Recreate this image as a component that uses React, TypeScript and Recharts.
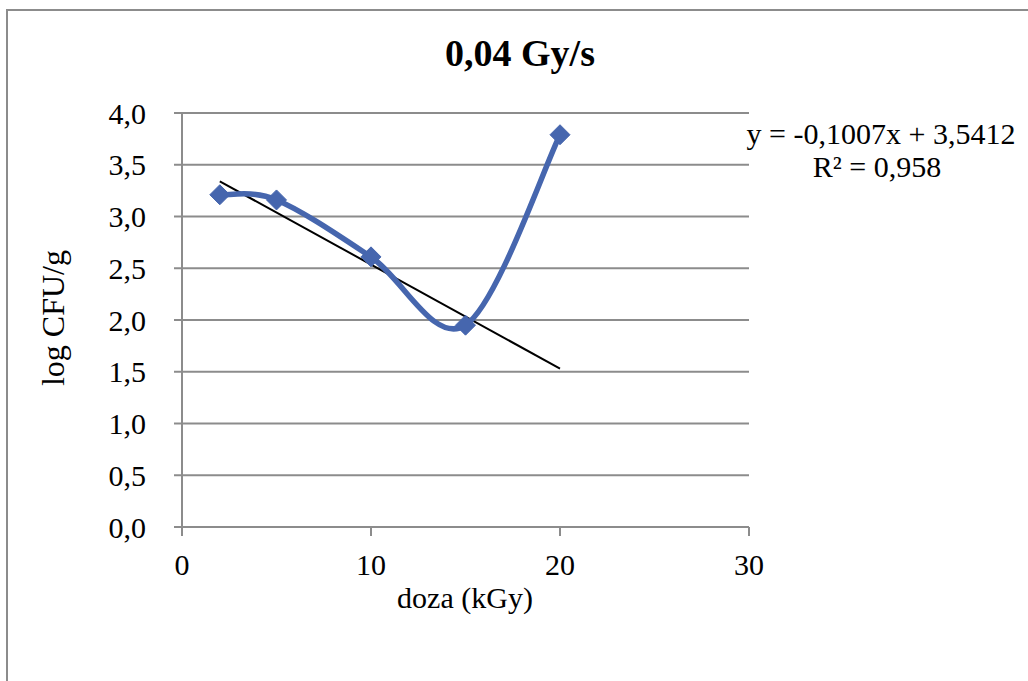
import React from 'react';
import { ComposedChart, Line, XAxis, YAxis, CartesianGrid } from 'recharts';

// measured points (dose kGy -> log CFU/g)
const doses = [2, 5, 10, 15, 20];
const logCfu = [3.21, 3.16, 2.61, 1.95, 3.79];

// linear trendline ends as drawn in the picture
const trendDoses = [2, 20];
const trendValues = [3.34, 1.53];

const xTicks = [0, 10, 20, 30];
const yTicks = [0, 0.5, 1, 1.5, 2, 2.5, 3, 3.5, 4];

const title = '0,04 Gy/s';
const xTitle = 'doza (kGy)';
const yTitle = 'log CFU/g';
const equation = 'y = -0,1007x + 3,5412';
const rSquared = 'R² = 0,958';

const measured = doses.map((x, i) => ({ x, y: logCfu[i] }));
const trend = trendDoses.map((x, i) => ({ x, y: trendValues[i] }));

const BLUE = '#4666ae';
const GRID = '#8c8c8c';
const FONT = '"Liberation Serif", "Times New Roman", serif';

// Excel-like smoothed line (Catmull-Rom through the points)
const smooth = (context: any) => {
  let pts: number[][] = [];
  return {
    areaStart() {},
    areaEnd() {},
    lineStart() {
      pts = [];
    },
    point(x: number, y: number) {
      pts.push([+x, +y]);
    },
    lineEnd() {
      const n = pts.length;
      if (!n) return;
      context.moveTo(pts[0][0], pts[0][1]);
      const t = 1 / 6;
      for (let i = 0; i < n - 1; i++) {
        const p0 = pts[Math.max(0, i - 1)];
        const p1 = pts[i];
        const p2 = pts[i + 1];
        const p3 = pts[Math.min(n - 1, i + 2)];
        context.bezierCurveTo(
          p1[0] + (p2[0] - p0[0]) * t,
          p1[1] + (p2[1] - p0[1]) * t,
          p2[0] - (p3[0] - p1[0]) * t,
          p2[1] - (p3[1] - p1[1]) * t,
          p2[0],
          p2[1]
        );
      }
    },
  };
};

const Diamond = (props: any) => {
  const { cx, cy } = props;
  if (cx == null || cy == null) return null;
  const r = 10;
  return (
    <path
      d={`M${cx},${cy - r}L${cx + r},${cy}L${cx},${cy + r}L${cx - r},${cy}Z`}
      fill={BLUE}
      stroke={BLUE}
      strokeWidth={1}
    />
  );
};

const fmt = (v: number) => v.toFixed(1).replace('.', ',');

export default function App() {
  return (
    <div
      style={{
        position: 'absolute',
        left: 0,
        top: 0,
        width: 1028,
        height: 681,
        overflow: 'hidden',
        background: '#fff',
      }}
    >
      <div
        style={{
          position: 'absolute',
          left: 6,
          top: 9,
          width: 1100,
          height: 800,
          borderLeft: `2px solid ${GRID}`,
          borderTop: `2px solid ${GRID}`,
        }}
      />
      <ComposedChart
        width={1028}
        height={681}
        margin={{ top: 113, left: 0, right: 279, bottom: 0 }}
        style={{ position: 'absolute', left: 0, top: 0 }}
      >
        <CartesianGrid vertical={false} stroke={GRID} strokeWidth={2} />
        <XAxis
          type="number"
          dataKey="x"
          domain={[0, 30]}
          ticks={xTicks}
          height={154}
          stroke={GRID}
          strokeWidth={2}
          tickSize={9}
          tickMargin={18}
          tick={{ fill: '#000', fontSize: 30, fontFamily: FONT }}
          allowDataOverflow
        />
        <YAxis
          type="number"
          dataKey="y"
          domain={[0, 4]}
          ticks={yTicks}
          width={182}
          stroke={GRID}
          strokeWidth={2}
          tickSize={8}
          tickMargin={28}
          tickFormatter={fmt}
          tick={{ fill: '#000', fontSize: 30, fontFamily: FONT }}
          allowDataOverflow
        />
        <Line
          data={trend}
          dataKey="y"
          type="linear"
          stroke="#000"
          strokeWidth={2}
          dot={false}
          activeDot={false}
          isAnimationActive={false}
        />
        <Line
          data={measured}
          dataKey="y"
          type={smooth as any}
          stroke={BLUE}
          strokeWidth={5.5}
          dot={<Diamond />}
          activeDot={false}
          isAnimationActive={false}
        />
      </ComposedChart>
      <svg
        width={1028}
        height={681}
        style={{ position: 'absolute', left: 0, top: 0, pointerEvents: 'none' }}
        fontFamily={FONT}
      >
        <text x={520} y={66} textAnchor="middle" fontSize={38} fontWeight="bold">
          {title}
        </text>
        <text x={465} y={608} textAnchor="middle" fontSize={30}>
          {xTitle}
        </text>
        <text x={64} y={318} textAnchor="middle" fontSize={32} transform="rotate(-90 64 318)">
          {yTitle}
        </text>
        <text x={881} y={144} textAnchor="middle" fontSize={30}>
          {equation}
        </text>
        <text x={877} y={177} textAnchor="middle" fontSize={30}>
          {rSquared}
        </text>
      </svg>
    </div>
  );
}
